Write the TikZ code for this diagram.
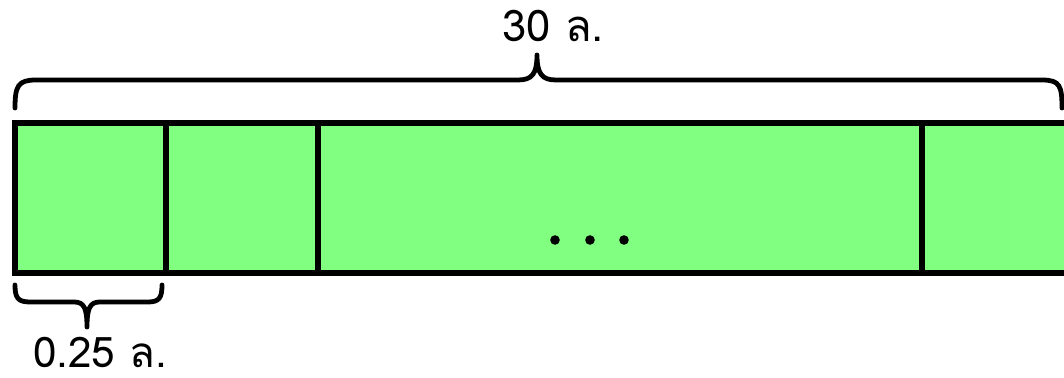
\documentclass[tikz,border=0pt]{standalone}
\usepackage{fontspec}
\newfontfamily\thaifont[Script=Thai]{Loma}
\usetikzlibrary{calc,positioning}
\definecolor{barfill}{HTML}{80FF80}
\definecolor{ink}{HTML}{000000}

\begin{document}
\begin{tikzpicture}[
  font=\thaifont,
  text=ink,
  cell/.style={
    draw=ink,
    fill=barfill,
    line width=3.6pt,
    inner sep=0pt,
    outer sep=0pt,
    minimum height=3.75cm
  },
  brace line/.style={
    draw=ink,
    line width=3.4pt,
    line cap=round,
    line join=round
  },
  measure/.style={
    inner sep=0pt,
    anchor=base,
    font=\thaifont\fontsize{31}{34}\selectfont
  }
]
\useasboundingbox (0,0) rectangle (26.6,9.45);

% Strip of cells
\node[cell,minimum width=3.775cm,anchor=south west] (first) at (0.375,2.625) {};
\node[cell,minimum width=3.8cm,right=0pt of first] (second) {};
\node[cell,minimum width=15.1cm,right=0pt of second] (middle) {};
\node[cell,minimum width=4cm,right=0pt of middle] (last) {};

% Dots for the cells that are left out
\foreach \dx in {-1.625,-0.75,0.1}
  \fill[ink] ($(middle.center)+(\dx,-1.05)$) circle (0.12);

% Brace over the whole strip
\draw[brace line] (0.375,6.75) .. controls (0.375,7.3) and (0.45,7.45) .. (0.9,7.45)
  -- (12.95,7.45) .. controls (13.3,7.45) and (13.425,7.6) .. (13.425,8.075)
  .. controls (13.425,7.6) and (13.55,7.45) .. (13.9,7.45)
  -- (26.05,7.45) .. controls (26.5,7.45) and (26.55,7.3) .. (26.55,6.75);
\node[measure] (total) at (13.825,8.4) {30 ล.};

% Brace under one cell
\draw[brace line] (0.375,2.325) .. controls (0.375,2.0) and (0.45,1.9) .. (0.75,1.9)
  -- (1.85,1.9) .. controls (2.1,1.9) and (2.175,1.75) .. (2.175,1.275)
  .. controls (2.175,1.75) and (2.25,1.9) .. (2.5,1.9)
  -- (3.7,1.9) .. controls (3.975,1.9) and (4.05,2.0) .. (4.05,2.325);
\node[measure,font=\thaifont\fontsize{30}{33}\selectfont] (piece) at (2.5,0.25) {0.25 ล.};

\end{tikzpicture}
\end{document}
